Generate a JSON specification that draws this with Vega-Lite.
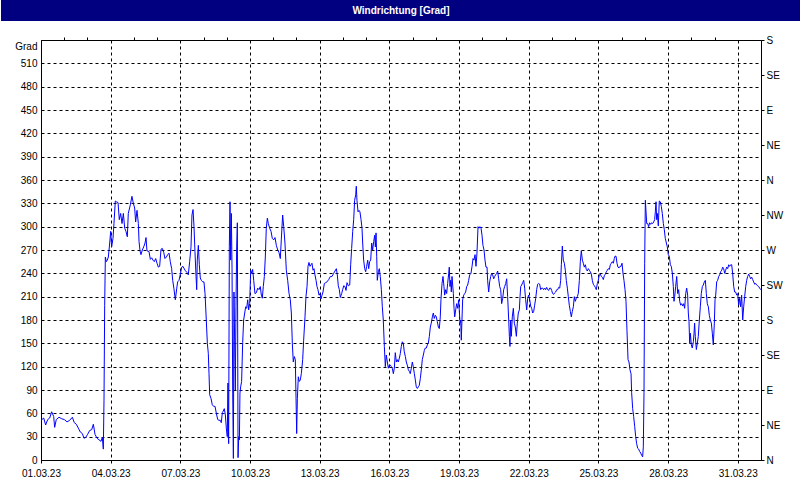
{
"$schema": "https://vega.github.io/schema/vega-lite/v6.json",
"padding": 0,
"background": "white",
"spacing": 19,
"bounds": "flush",
"center": true,
"config": {
  "font": "Liberation Sans",
  "axis": {"labelFont": "Liberation Sans", "labelFontSize": 10, "labelColor": "#000", "domainColor": "#000", "tickColor": "#000", "titleColor": "#000", "titleFont": "Liberation Sans"},
  "view": {"stroke": "#000", "strokeWidth": 1}
},
"vconcat": [
{
  "width": 800, "height": 21,
  "view": {"fill": "#000080", "stroke": null},
  "data": {"values": [{"titel": "Windrichtung [Grad]"}]},
  "mark": {"type": "text", "color": "white", "fontWeight": "bold", "fontSize": 10, "font": "Liberation Sans"},
  "encoding": {"text": {"field": "titel"}}
},
{
  "width": 720, "height": 420,
  "data": {"values": [
{"h":0,"v":51},{"h":2.8,"v":54},{"h":4.8,"v":45},{"h":6.9,"v":52},{"h":9,"v":54},{"h":11,"v":62},{"h":13.1,"v":56},{"h":14.1,"v":42},{"h":15.8,"v":52},{"h":18.6,"v":55},{"h":21.4,"v":53},{"h":24.1,"v":52},{"h":26.9,"v":49},{"h":29.6,"v":51},{"h":32.4,"v":55},{"h":34.4,"v":48},{"h":36.5,"v":46},{"h":38.6,"v":41},{"h":40.6,"v":36},{"h":42.7,"v":34},{"h":44.4,"v":28},{"h":46.2,"v":29},{"h":48.2,"v":33},{"h":50.3,"v":38},{"h":52.4,"v":39},{"h":54.1,"v":46},{"h":55.8,"v":33},{"h":57.9,"v":28},{"h":59.9,"v":26},{"h":62,"v":24},{"h":63.4,"v":29},{"h":64.4,"v":14},{"h":65.1,"v":77},{"h":65.8,"v":199},{"h":66.5,"v":261},{"h":67.5,"v":255},{"h":68.5,"v":257},{"h":69.6,"v":261},{"h":71,"v":279},{"h":72,"v":294},{"h":73,"v":274},{"h":74.4,"v":285},{"h":75.4,"v":304},{"h":76.8,"v":333},{"h":77.8,"v":332},{"h":79.6,"v":331},{"h":80.9,"v":309},{"h":82.3,"v":317},{"h":83.7,"v":304},{"h":85.1,"v":317},{"h":86.5,"v":298},{"h":87.8,"v":294},{"h":89.2,"v":287},{"h":90.2,"v":317},{"h":92.3,"v":328},{"h":94,"v":339},{"h":95.4,"v":330},{"h":96.8,"v":324},{"h":97.8,"v":306},{"h":99.2,"v":321},{"h":100.6,"v":304},{"h":101.3,"v":281},{"h":102.3,"v":269},{"h":103.3,"v":264},{"h":104.7,"v":270},{"h":106.1,"v":274},{"h":107.5,"v":279},{"h":108.5,"v":286},{"h":109.5,"v":269},{"h":111.6,"v":268},{"h":113,"v":258},{"h":114.4,"v":260},{"h":115.7,"v":257},{"h":117.1,"v":255},{"h":118.5,"v":259},{"h":119.9,"v":253},{"h":121.2,"v":248},{"h":122.6,"v":249},{"h":124,"v":271},{"h":125.4,"v":272},{"h":126.8,"v":267},{"h":128.1,"v":259},{"h":129.5,"v":261},{"h":130.9,"v":264},{"h":132.3,"v":266},{"h":133.6,"v":255},{"h":135,"v":246},{"h":136.1,"v":231},{"h":137.4,"v":220},{"h":138.8,"v":206},{"h":140.2,"v":220},{"h":141.2,"v":229},{"h":142.6,"v":231},{"h":144,"v":239},{"h":145.4,"v":248},
{"h":146.7,"v":249},{"h":148.8,"v":244},{"h":150.9,"v":241},{"h":152.2,"v":238},{"h":153.6,"v":255},{"h":155,"v":274},{"h":156,"v":315},{"h":157.1,"v":322},{"h":158.1,"v":300},{"h":159.1,"v":268},{"h":160.2,"v":236},{"h":160.9,"v":219},{"h":161.5,"v":257},{"h":162.6,"v":276},{"h":163.6,"v":251},{"h":164.6,"v":234},{"h":165.7,"v":231},{"h":167.1,"v":229},{"h":168.4,"v":229},{"h":169.5,"v":214},{"h":170.8,"v":180},{"h":171.9,"v":150},{"h":172.9,"v":137},{"h":173.6,"v":111},{"h":174.3,"v":84},{"h":175.7,"v":79},{"h":177,"v":71},{"h":178.4,"v":69},{"h":179.8,"v":69},{"h":181.2,"v":60},{"h":182.6,"v":52},{"h":183.9,"v":51},{"h":185.3,"v":51},{"h":186.3,"v":48},{"h":187.4,"v":61},{"h":188.4,"v":63},{"h":189.4,"v":66},{"h":190.5,"v":58},{"h":191.5,"v":41},{"h":192.5,"v":30},{"h":193.2,"v":99},{"h":193.9,"v":21},{"h":194.6,"v":274},{"h":195.3,"v":332},{"h":196,"v":257},{"h":196.7,"v":317},{"h":197.4,"v":246},{"h":198.1,"v":86},{"h":198.8,"v":2},{"h":199.4,"v":216},{"h":200.1,"v":154},{"h":200.8,"v":90},{"h":201.5,"v":197},{"h":202.2,"v":274},{"h":202.9,"v":305},{"h":203.6,"v":3},{"h":204.3,"v":30},{"h":205,"v":26},{"h":205.6,"v":86},{"h":206.3,"v":94},{"h":207.3,"v":101},{"h":208.4,"v":151},{"h":209.4,"v":180},{"h":210.5,"v":189},{"h":211.5,"v":197},{"h":212.5,"v":195},{"h":213.6,"v":206},{"h":214.6,"v":193},{"h":215.6,"v":201},{"h":216.7,"v":244},{"h":217.7,"v":240},{"h":218.7,"v":245},{"h":219.8,"v":231},{"h":221.1,"v":214},{"h":222.5,"v":215},{"h":223.9,"v":221},{"h":225.3,"v":219},{"h":226.6,"v":223},{"h":227.7,"v":212},{"h":228.7,"v":208},{"h":229.7,"v":223},{"h":230.8,"v":236},{"h":231.8,"v":261},{"h":232.8,"v":298},{"h":233.9,"v":311},{"h":234.9,"v":304},{"h":236.3,"v":298},{"h":237.7,"v":294},{"h":239,"v":285},{"h":240.4,"v":283},{"h":241.8,"v":286},{"h":243.2,"v":276},{"h":244.6,"v":270},{"h":245.9,"v":267},{"h":247.3,"v":259},{"h":248.3,"v":283},{"h":249.7,"v":315},{"h":250.8,"v":300},{"h":252.1,"v":279},{"h":253.5,"v":244},{"h":254.9,"v":231},{"h":256.3,"v":214},{"h":257.6,"v":206},{"h":258.7,"v":189},{"h":259.7,"v":150},{"h":260.7,"v":126},{"h":261.8,"v":133},{"h":262.8,"v":129},{"h":263.5,"v":81},{"h":264.2,"v":34},{"h":264.9,"v":79},{"h":265.9,"v":107},{"h":266.9,"v":101},{"h":268,"v":103},{"h":269,"v":111},{"h":270.4,"v":129},{"h":271.4,"v":154},{"h":272.8,"v":184},{"h":273.8,"v":210},{"h":274.9,"v":223},{"h":275.9,"v":249},{"h":276.9,"v":254},{"h":278,"v":249},{"h":279,"v":251},{"h":280,"v":253},{"h":281.1,"v":244},{"h":282.1,"v":246},{"h":283.1,"v":238},{"h":284.2,"v":231},{"h":285.2,"v":223},{"h":286.2,"v":219},{"h":287.3,"v":212},{"h":288.3,"v":214},{"h":289.3,"v":207},{"h":290.4,"v":212},{"h":291.4,"v":216},{"h":292.8,"v":227},{"h":294.2,"v":228},
{"h":295.5,"v":229},{"h":297.3,"v":232},{"h":299,"v":236},{"h":300.7,"v":236},{"h":302.4,"v":240},{"h":303.8,"v":243},{"h":305.2,"v":246},{"h":306.2,"v":238},{"h":307.2,"v":224},{"h":308.3,"v":219},{"h":309.3,"v":209},{"h":310.7,"v":214},{"h":311.7,"v":219},{"h":312.8,"v":224},{"h":314.1,"v":223},{"h":315.2,"v":218},{"h":316.2,"v":228},{"h":317.6,"v":224},{"h":319,"v":225},{"h":320,"v":251},{"h":321,"v":272},{"h":322.1,"v":294},{"h":323.1,"v":309},{"h":324.1,"v":334},{"h":325.2,"v":341},{"h":325.8,"v":352},{"h":326.5,"v":334},{"h":327.6,"v":319},{"h":328.6,"v":321},{"h":329.6,"v":319},{"h":330.7,"v":309},{"h":331.7,"v":298},{"h":332.4,"v":279},{"h":333.4,"v":257},{"h":334.5,"v":246},{"h":335.5,"v":242},{"h":336.5,"v":249},{"h":337.6,"v":257},{"h":338.6,"v":246},{"h":339.6,"v":255},{"h":340.7,"v":257},{"h":341.7,"v":279},{"h":342.7,"v":270},{"h":343.8,"v":281},{"h":344.8,"v":289},{"h":345.5,"v":274},{"h":346.2,"v":292},{"h":346.9,"v":262},{"h":347.5,"v":231},{"h":348.6,"v":242},{"h":349.6,"v":246},{"h":350.6,"v":236},{"h":351.7,"v":219},{"h":352.7,"v":197},{"h":353.7,"v":180},{"h":354.8,"v":146},{"h":355.8,"v":120},{"h":356.8,"v":135},{"h":357.9,"v":126},{"h":358.9,"v":118},{"h":359.9,"v":122},{"h":361,"v":122},{"h":362,"v":120},{"h":363,"v":118},{"h":364.1,"v":111},{"h":365.1,"v":118},{"h":366.1,"v":138},{"h":367.2,"v":126},{"h":368.2,"v":129},{"h":369.2,"v":126},{"h":370.3,"v":131},{"h":371.3,"v":137},{"h":372.3,"v":146},{"h":373.4,"v":152},{"h":374.4,"v":150},{"h":375.4,"v":139},{"h":376.5,"v":133},{"h":377.5,"v":126},{"h":378.5,"v":122},{"h":379.6,"v":116},{"h":380.6,"v":114},{"h":381.6,"v":111},{"h":382.7,"v":118},{"h":383.7,"v":126},{"h":384.7,"v":120},{"h":385.8,"v":111},{"h":386.8,"v":103},{"h":387.8,"v":94},{"h":388.9,"v":92},{"h":389.9,"v":94},{"h":390.9,"v":96},{"h":392,"v":105},{"h":393,"v":116},{"h":394,"v":129},{"h":395.1,"v":135},{"h":396.1,"v":141},{"h":397.1,"v":144},{"h":398.2,"v":144},{"h":399.2,"v":148},{"h":400.2,"v":150},{"h":401.3,"v":159},{"h":402.3,"v":171},{"h":403.3,"v":176},{"h":404.4,"v":184},{"h":405.4,"v":189},{"h":406.4,"v":182},{"h":407.5,"v":186},{"h":408.5,"v":184},{"h":409.5,"v":178},{"h":410.6,"v":171},{"h":411.6,"v":169},{"h":412.6,"v":184},{"h":413.3,"v":206},{"h":414.4,"v":227},{"h":415.4,"v":236},{"h":416.4,"v":223},{"h":417.1,"v":212},{"h":418.2,"v":219},{"h":419.2,"v":214},{"h":420.2,"v":227},{"h":421.3,"v":240},{"h":421.9,"v":248},{"h":422.6,"v":223},{"h":423.3,"v":231},{"h":424,"v":216},{"h":424.7,"v":236},{"h":425.4,"v":225},{"h":426.1,"v":214},{"h":426.8,"v":195},{"h":427.5,"v":184},{"h":428.5,"v":193},{"h":429.5,"v":201},{"h":430.6,"v":195},{"h":431.6,"v":206},{"h":432.3,"v":191},{"h":433,"v":176},{"h":433.7,"v":180},{"h":434.3,"v":154},{"h":435,"v":180},{"h":435.7,"v":206},{"h":436.8,"v":212},{"h":437.8,"v":214},{"h":438.8,"v":216},{"h":439.9,"v":223},{"h":440.9,"v":225},{"h":441.9,"v":231},{"h":443,"v":238},
{"h":444.3,"v":240},{"h":445.4,"v":249},{"h":446.4,"v":259},{"h":447.4,"v":257},{"h":448.5,"v":264},{"h":449.5,"v":249},{"h":450.5,"v":266},{"h":451.6,"v":300},{"h":452.6,"v":298},{"h":453.6,"v":300},{"h":454.7,"v":298},{"h":455.7,"v":289},{"h":456.7,"v":276},{"h":457.8,"v":270},{"h":458.8,"v":257},{"h":459.8,"v":248},{"h":460.9,"v":248},{"h":461.5,"v":231},{"h":462.6,"v":216},{"h":463.6,"v":229},{"h":464.7,"v":236},{"h":465.7,"v":240},{"h":466.7,"v":238},{"h":467.8,"v":233},{"h":468.8,"v":236},{"h":469.8,"v":238},{"h":470.9,"v":240},{"h":471.9,"v":243},{"h":472.9,"v":233},{"h":474,"v":223},{"h":475,"v":219},{"h":476,"v":201},{"h":477.1,"v":208},{"h":478.1,"v":219},{"h":479.1,"v":223},{"h":480.2,"v":227},{"h":481.2,"v":233},{"h":482.2,"v":210},{"h":483.3,"v":180},{"h":484,"v":159},{"h":484.6,"v":146},{"h":485.3,"v":180},{"h":486,"v":159},{"h":487,"v":184},{"h":488.1,"v":195},{"h":489.1,"v":176},{"h":490.1,"v":171},{"h":491.2,"v":159},{"h":492.2,"v":176},{"h":493.2,"v":189},{"h":494.3,"v":193},{"h":495,"v":210},{"h":495.7,"v":223},{"h":496.7,"v":225},{"h":497.7,"v":228},{"h":498.8,"v":231},{"h":499.8,"v":221},{"h":500.8,"v":206},{"h":501.9,"v":193},{"h":502.9,"v":208},{"h":503.9,"v":212},{"h":505,"v":206},{"h":506,"v":198},{"h":507,"v":195},{"h":508.1,"v":189},{"h":509.1,"v":191},{"h":510.1,"v":199},{"h":511.2,"v":208},{"h":512.2,"v":219},{"h":513.2,"v":226},{"h":514.3,"v":227},{"h":515.3,"v":226},{"h":516.3,"v":219},{"h":517.4,"v":221},{"h":518.4,"v":221},{"h":519.4,"v":219},{"h":520.5,"v":221},{"h":521.5,"v":219},{"h":522.5,"v":222},{"h":523.6,"v":219},{"h":524.6,"v":218},{"h":525.6,"v":221},{"h":526.7,"v":221},{"h":527.7,"v":218},{"h":528.7,"v":214},{"h":529.8,"v":213},{"h":530.8,"v":215},{"h":531.8,"v":216},{"h":532.9,"v":219},{"h":533.9,"v":219},{"h":534.9,"v":222},{"h":536,"v":221},{"h":537,"v":231},{"h":537.7,"v":251},{"h":538.7,"v":275},{"h":539.7,"v":257},{"h":540.8,"v":253},{"h":541.8,"v":244},{"h":542.8,"v":231},{"h":543.9,"v":221},{"h":544.9,"v":210},{"h":545.9,"v":199},{"h":547,"v":191},{"h":548,"v":184},{"h":549,"v":191},{"h":550.1,"v":197},{"h":551.1,"v":210},{"h":552.1,"v":204},{"h":553.2,"v":208},{"h":554.2,"v":210},{"h":555.2,"v":214},{"h":556.3,"v":231},{"h":557.3,"v":255},{"h":558.3,"v":269},{"h":559.4,"v":257},{"h":560.4,"v":253},{"h":561.4,"v":248},{"h":562.5,"v":251},{"h":563.5,"v":245},{"h":564.5,"v":243},{"h":565.6,"v":246},{"h":566.6,"v":244},{"h":567.6,"v":242},{"h":568.7,"v":239},{"h":569.7,"v":231},{"h":570.7,"v":226},{"h":571.8,"v":224},{"h":572.8,"v":222},{"h":573.8,"v":219},{"h":574.9,"v":227},{"h":575.9,"v":231},{"h":576.9,"v":238},{"h":578,"v":239},{"h":579,"v":236},{"h":580,"v":235},{"h":581.1,"v":232},{"h":582.1,"v":237},{"h":583.1,"v":239},{"h":584.2,"v":242},{"h":585.2,"v":244},{"h":586.2,"v":246},{"h":587.3,"v":245},{"h":588.3,"v":251},{"h":589.3,"v":253},{"h":590.4,"v":255},{"h":591.4,"v":253},{"h":592.4,"v":259},
{"h":593.1,"v":262},{"h":594.2,"v":262},{"h":595.2,"v":253},{"h":596.2,"v":248},{"h":597.3,"v":247},{"h":598.3,"v":249},{"h":599.3,"v":249},{"h":600.4,"v":253},{"h":601.4,"v":240},{"h":602.4,"v":231},{"h":603.5,"v":219},{"h":604.5,"v":204},{"h":605.5,"v":167},{"h":606.6,"v":129},{"h":607.6,"v":126},{"h":608.6,"v":116},{"h":609.7,"v":111},{"h":610.3,"v":87},{"h":611.4,"v":66},{"h":612.4,"v":56},{"h":613.5,"v":43},{"h":614.5,"v":30},{"h":615.5,"v":21},{"h":616.6,"v":15},{"h":617.6,"v":14},{"h":618.6,"v":11},{"h":619.7,"v":9},{"h":620.7,"v":6},{"h":621.7,"v":4},{"h":622.4,"v":17},{"h":623.1,"v":87},{"h":623.8,"v":253},{"h":624.5,"v":334},{"h":625.2,"v":319},{"h":625.9,"v":304},{"h":626.9,"v":304},{"h":627.9,"v":300},{"h":628.9,"v":305},{"h":630,"v":303},{"h":631,"v":305},{"h":632,"v":304},{"h":633.1,"v":306},{"h":634.1,"v":309},{"h":634.8,"v":319},{"h":635.5,"v":332},{"h":636.2,"v":309},{"h":636.9,"v":317},{"h":637.9,"v":301},{"h":638.9,"v":333},{"h":640,"v":332},{"h":641,"v":326},{"h":642,"v":317},{"h":643.1,"v":304},{"h":644.1,"v":296},{"h":645.1,"v":285},{"h":646.2,"v":279},{"h":647.2,"v":274},{"h":648.2,"v":264},{"h":649.3,"v":262},{"h":650.3,"v":251},{"h":651.3,"v":249},{"h":652.4,"v":240},{"h":653.4,"v":223},{"h":654.1,"v":204},{"h":654.8,"v":210},{"h":655.8,"v":223},{"h":656.9,"v":236},{"h":657.9,"v":214},{"h":658.9,"v":219},{"h":660,"v":204},{"h":661,"v":199},{"h":662,"v":201},{"h":663.1,"v":198},{"h":664.1,"v":201},{"h":665.1,"v":195},{"h":666.2,"v":214},{"h":667.2,"v":221},{"h":668.2,"v":212},{"h":668.9,"v":189},{"h":669.6,"v":178},{"h":670.3,"v":150},{"h":671,"v":163},{"h":672,"v":148},{"h":673,"v":144},{"h":674.1,"v":152},{"h":674.8,"v":163},{"h":675.4,"v":176},{"h":676.1,"v":159},{"h":677.2,"v":142},{"h":678.2,"v":150},{"h":679.2,"v":159},{"h":680.3,"v":180},{"h":681.3,"v":197},{"h":682.3,"v":214},{"h":683.4,"v":223},{"h":684.4,"v":225},{"h":685.4,"v":229},{"h":686.5,"v":231},{"h":687.5,"v":214},{"h":688.5,"v":201},{"h":689.6,"v":197},{"h":690.6,"v":186},{"h":691.6,"v":180},{"h":692.7,"v":176},{"h":693.7,"v":163},{"h":694.7,"v":148},{"h":695.8,"v":176},{"h":696.5,"v":206},{"h":697.2,"v":212},{"h":698.2,"v":229},{"h":699.2,"v":231},{"h":700.3,"v":236},{"h":701.3,"v":238},{"h":702.3,"v":242},{"h":703.4,"v":244},{"h":704.4,"v":248},{"h":705.4,"v":246},{"h":706.5,"v":240},{"h":707.5,"v":244},{"h":708.5,"v":248},{"h":709.6,"v":246},{"h":710.6,"v":251},{"h":711.6,"v":249},{"h":712.7,"v":251},{"h":713.7,"v":251},{"h":714.7,"v":240},{"h":715.8,"v":223},{"h":716.8,"v":216},{"h":717.8,"v":216},{"h":718.9,"v":212},{"h":719.9,"v":214},{"h":720.9,"v":199},{"h":722,"v":208},{"h":723,"v":197},{"h":724,"v":212},{"h":725.1,"v":180},{"h":726.1,"v":197},{"h":727.1,"v":210},{"h":728.2,"v":223},{"h":729.2,"v":231},{"h":730.2,"v":236},{"h":731.3,"v":239},{"h":732.3,"v":236},{"h":733.3,"v":233},{"h":734.4,"v":235},{"h":735.4,"v":232},{"h":736.4,"v":229},{"h":737.5,"v":226},{"h":738.5,"v":227},{"h":739.5,"v":225},{"h":740.6,"v":224},{"h":741.6,"v":223},{"h":742.6,"v":221},{"h":743.6,"v":219}
  ]},
  "layer": [
    {
      "mark": {"type": "line", "color": "#0000FF", "strokeWidth": 1},
      "encoding": {
        "x": {"field": "h", "type": "quantitative", "scale": {"domain": [0, 744], "nice": false, "zero": false},
          "axis": {"values": [0, 72, 144, 216, 288, 360, 432, 504, 576, 648, 720], "title": null,
            "labelExpr": "timeFormat(datetime(2023, 2, 1 + datum.value / 24), '%d.%m.%y')",
            "grid": true, "gridDash": [3, 3], "gridColor": "#000", "gridOpacity": 1, "tickSize": 3, "labelPadding": 5,
            "labelFlush": false, "labelOverlap": false}},
        "y": {"field": "v", "type": "quantitative", "scale": {"domain": [0, 540], "nice": false},
          "axis": {"orient": "left", "values": [0, 30, 60, 90, 120, 150, 180, 210, 240, 270, 300, 330, 360, 390, 420, 450, 480, 510],
            "title": "Grad", "titleAngle": 0, "titleAlign": "right", "titleBaseline": "middle", "titleX": -4, "titleY": 6,
            "titleFontWeight": "normal", "titleFontSize": 10, "titlePadding": 0,
            "ticks": false, "labelPadding": 4, "grid": true, "gridDash": [3, 3], "gridColor": "#000", "gridOpacity": 1,
            "labelOverlap": false, "minExtent": 40, "maxExtent": 40}}
      }
    },
    {
      "mark": {"type": "line", "strokeOpacity": 0},
      "encoding": {
        "x": {"field": "h", "type": "quantitative", "scale": {"domain": [0, 744], "nice": false, "zero": false},
          "axis": {"values": [24, 48, 96, 120, 168, 192, 240, 264, 312, 336, 384, 408, 456, 480, 528, 552, 600, 624, 672, 696], "labels": false, "grid": false, "domain": false, "tickSize": 3, "title": null}},
        "y": {"field": "v", "type": "quantitative", "scale": {"domain": [0, 540], "nice": false},
          "axis": {"orient": "right", "values": [0, 45, 90, 135, 180, 225, 270, 315, 360, 405, 450, 495, 540],
            "labelExpr": "['N','NE','E','SE','S','SW','W','NW'][(datum.value / 45) % 8]",
            "grid": false, "tickSize": 3, "labelPadding": 2, "title": null, "labelOverlap": false}}
      }
    }
  ],
  "resolve": {"axis": {"x": "independent", "y": "independent"}}
}
]
}
